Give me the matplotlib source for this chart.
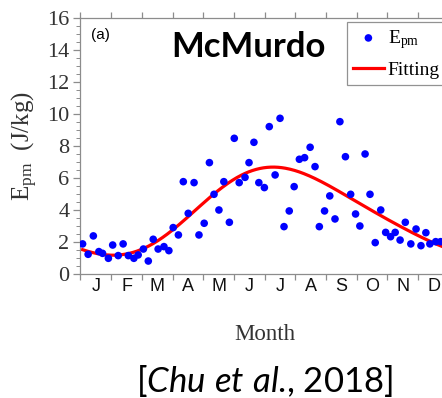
import numpy as np
import matplotlib
matplotlib.use("Agg")
import matplotlib.pyplot as plt
from matplotlib.ticker import MultipleLocator, FixedLocator, NullFormatter, FixedFormatter

plt.rcParams["mathtext.fontset"] = "custom"
plt.rcParams["mathtext.rm"] = "Liberation Serif"
plt.rcParams["mathtext.it"] = "Lato:italic"

# Time of year in months (0 = 1 January) and potential energy per unit mass
month_pos = [0.07, 0.25, 0.42, 0.60, 0.72, 0.91, 1.05, 1.23, 1.39, 1.56, 1.74, 1.88,
             2.05, 2.21, 2.37, 2.53, 2.72, 2.88, 3.02, 3.19, 3.35, 3.51, 3.70, 3.86,
             4.03, 4.20, 4.35, 4.51, 4.67, 4.85, 5.01, 5.17, 5.36, 5.49, 5.65, 5.81,
             5.99, 6.15, 6.34, 6.50, 6.63, 6.80, 6.96, 7.13, 7.30, 7.48, 7.64, 7.78,
             7.95, 8.12, 8.29, 8.45, 8.63, 8.80, 8.96, 9.10, 9.27, 9.43, 9.60, 9.78,
             9.94, 10.10, 10.25, 10.41, 10.58, 10.76, 10.93, 11.09, 11.25, 11.38, 11.57, 11.73]
epm = [1.88, 1.23, 2.38, 1.40, 1.29, 0.98, 1.81, 1.15, 1.88, 1.15, 0.98, 1.19,
       1.56, 0.81, 2.17, 1.56, 1.71, 1.46, 2.90, 2.44, 5.77, 3.79, 5.71, 2.44,
       3.17, 6.96, 4.98, 4.00, 5.77, 3.23, 8.48, 5.71, 6.04, 6.96, 8.23, 5.71,
       5.40, 9.21, 6.19, 9.73, 2.96, 3.94, 5.46, 7.17, 7.27, 7.92, 6.71, 2.96,
       3.94, 4.88, 3.44, 9.52, 7.33, 4.98, 3.75, 3.00, 7.50, 4.98, 1.96, 4.00,
       2.60, 2.33, 2.60, 2.12, 3.23, 1.88, 2.81, 1.77, 2.58, 1.88, 2.02, 2.02]
month_labels = ["J", "F", "M", "A", "M", "J", "J", "A", "S", "O", "N", "D"]

t = np.asarray(month_pos)
y = np.asarray(epm)

# Least-squares fit: mean + annual + semiannual harmonics
def design(tt):
    w = 2 * np.pi * tt / 12.0
    return np.column_stack([np.ones_like(tt), np.cos(w), np.sin(w),
                            np.cos(2 * w), np.sin(2 * w)])

coef, *_ = np.linalg.lstsq(design(t), y, rcond=None)
t_fit = np.linspace(0.07, 12, 400)
y_fit = design(t_fit) @ coef

fig = plt.figure(figsize=(4.42, 3.98), dpi=100)
ax = fig.add_axes([0.182, 0.3116, 0.818, 0.6432])

fit_line, = ax.plot(t_fit, y_fit, color="#ff0000", lw=2.3, zorder=2)
pts = ax.scatter(t, y, s=30, color="#0000ff", edgecolors="none", zorder=3)

ax.set_xlim(0, 11.775)
ax.set_ylim(0, 16)

spine_col = "#8c8c8c"
for side in ["left", "bottom", "top"]:
    ax.spines[side].set_color(spine_col)
    ax.spines[side].set_linewidth(0.9)
ax.spines["right"].set_visible(False)

ax.yaxis.set_major_locator(MultipleLocator(2))
ax.yaxis.set_minor_locator(MultipleLocator(0.5))
ax.tick_params(axis="y", which="major", direction="out", length=5, width=0.9,
               color=spine_col, labelsize=16, labelcolor="#333333", pad=3)
ax.tick_params(axis="y", which="minor", direction="out", length=3, width=0.7,
               color=spine_col)
for lab in ax.get_yticklabels():
    lab.set_family("Liberation Serif")

ax.xaxis.set_major_locator(FixedLocator(np.arange(0, 13)))
ax.xaxis.set_major_formatter(NullFormatter())
ax.xaxis.set_minor_locator(FixedLocator(np.arange(12) + 0.5))
ax.xaxis.set_minor_formatter(FixedFormatter(month_labels))
ax.tick_params(axis="x", which="major", direction="out", length=4, width=0.9,
               color=spine_col, top=True, bottom=True)
ax.tick_params(axis="x", which="minor", length=0, labelsize=13,
               labelcolor="#111111", pad=3)
for lab in ax.xaxis.get_minorticklabels():
    lab.set_family("Liberation Sans")

ax.set_ylabel(r"$\mathrm{E_{pm}}$  (J/kg)", fontsize=18, family="Liberation Serif",
              color="#333333", labelpad=5)

ax.text(0.03, 0.935, "(a)", transform=ax.transAxes, fontsize=11,
        family="Liberation Sans", va="center", ha="left")
ax.text(0.465, 0.885, "McMurdo", transform=ax.transAxes, fontsize=25,
        family="Lato", weight="bold", va="center", ha="center")

leg = ax.legend([pts, fit_line], [r"$\mathrm{E_{pm}}$", "Fitting"],
                loc="upper left", bbox_to_anchor=(347 / 442, 1 - 22 / 398),
                bbox_transform=fig.transFigure, frameon=True,
                fancybox=False, edgecolor="#777777", borderpad=0.3,
                borderaxespad=0, handlelength=1.6, handletextpad=0.2,
                labelspacing=0.55,
                prop={"family": "Liberation Serif", "size": 14})
leg.get_frame().set_linewidth(0.9)

fig.text(265 / 442, 1 - 334 / 398, "Month", fontsize=16.5, family="Liberation Serif",
         color="#333333", ha="center", va="center")
fig.text(264 / 442, 1 - 381 / 398,
         r"[$\it{Chu\ et\ al}$., 2018]", fontsize=25, family="Lato",
         ha="center", va="center")

fig.savefig("out.png", dpi=100)
